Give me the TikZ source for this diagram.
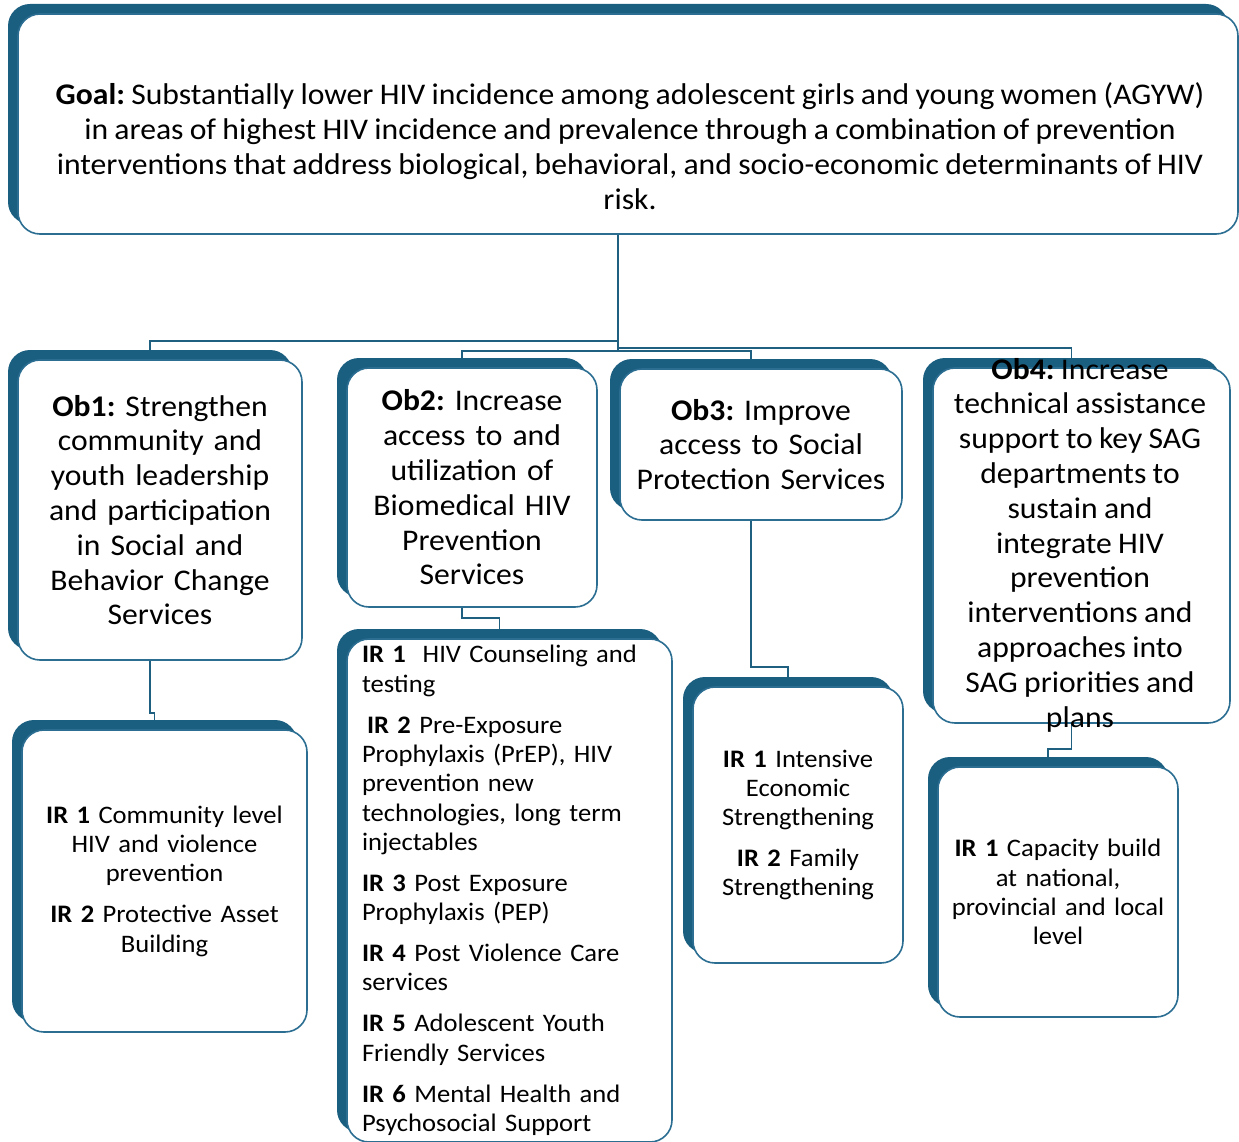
\documentclass[tikz,border=0pt]{standalone}
\usepackage{fontspec}
\setmainfont{Carlito}[FakeStretch=1.055, WordSpace=0.88]
\frenchspacing
\usetikzlibrary{shadows,calc,backgrounds}
\definecolor{sgdark}{HTML}{1A5E80}
\definecolor{sgline}{HTML}{2B6E92}
\definecolor{sgconn}{HTML}{1F5F80}
\begin{document}
\begin{tikzpicture}[x=1pt,y=-1pt,
  box/.style={draw=sgline, line width=1.6pt, fill=white, rounded corners=22pt,
    general shadow={fill=sgdark, shadow xshift=-10pt, shadow yshift=10pt},
    inner xsep=8pt, inner ysep=2pt, align=center},
  big/.style={font=\fontsize{30}{34.8}\selectfont\frenchspacing},
  small/.style={font=\fontsize{25.2}{29.3}\selectfont\frenchspacing},
  conn/.style={draw=sgconn, line width=1.8pt}]
\useasboundingbox (0,0) rectangle (1239,1142);

% goal
\node[box, minimum width=1220pt, minimum height=220pt] (goal) at (628,124) {};
\node[big, align=center] (goaltext) at (630,146)
  {\textbf{Goal:} Substantially lower HIV incidence among adolescent girls and young women (AGYW)\\
   in areas of highest HIV incidence and prevalence through a combination of prevention\\
   interventions that address biological, behavioral, and socio-economic determinants of HIV\\
   risk.};

% objectives
\node[box, big, minimum width=284pt, minimum height=300pt, text width=268pt] (ob1) at (160,510)
  {\textbf{Ob1:} Strengthen\\community and\\youth leadership\\and participation\\in Social and\\Behavior Change\\Services};
\node[box, big, minimum width=250pt, minimum height=239pt, text width=234pt] (ob2) at (472,487.5)
  {\textbf{Ob2:} Increase\\access to and\\utilization of\\Biomedical HIV\\Prevention\\Services};
\node[box, big, minimum width=282pt, minimum height=151pt, text width=266pt] (ob3) at (761,444.5)
  {\textbf{Ob3:} Improve\\access to Social\\Protection Services};
\node[box, minimum width=297pt, minimum height=355pt] (ob4) at (1081.5,545.5) {};
\node[big, align=center] (ob4text) at (1080,545)
  {\textbf{Ob4:} Increase\\technical assistance\\support to key SAG\\departments to\\sustain and\\integrate HIV\\prevention\\interventions and\\approaches into\\SAG priorities and\\plans};

% intermediate results
\node[box, small, minimum width=285pt, minimum height=302pt, text width=269pt] (ir1) at (164.5,881)
  {\textbf{IR 1} Community level\\HIV and violence\\prevention\\[11.7pt]\textbf{IR 2} Protective Asset\\Building};
\node[box, small, inner xsep=15pt, minimum width=325pt, minimum height=503pt, text width=295pt, align=left] (ir2) at (509.5,890.5)
  {\textbf{IR 1}\ \ HIV Counseling and\\testing\\[11.7pt]
   \hspace*{5pt}\textbf{IR 2} Pre-Exposure\\Prophylaxis (PrEP), HIV\\prevention new\\technologies, long term\\injectables\\[11.7pt]
   \textbf{IR 3} Post Exposure\\Prophylaxis (PEP)\\[11.7pt]
   \textbf{IR 4} Post Violence Care\\services\\[11.7pt]
   \textbf{IR 5} Adolescent Youth\\Friendly Services\\[11.7pt]
   \textbf{IR 6} Mental Health and\\Psychosocial Support};
\node[box, small, minimum width=210pt, minimum height=276pt, text width=194pt] (ir3) at (798,825)
  {\textbf{IR 1} Intensive\\Economic\\Strengthening\\[11.7pt]\textbf{IR 2} Family\\Strengthening};
\node[box, small, minimum width=240pt, minimum height=250pt, text width=224pt] (ir4) at (1058,892)
  {\textbf{IR 1} Capacity build\\at national,\\provincial and local\\level};

% connectors
\begin{scope}[on background layer]
\draw[conn] ($(goal.south)+(-10,0)$) -- ++(0,106) -| ($(ob1.north)+(-10,0)$);
\draw[conn] ($(goal.south)+(-10,0)$) -- ++(0,116) -| ($(ob2.north)+(-10,0)$);
\draw[conn] ($(goal.south)+(-10,0)$) -- ++(0,116) -| ($(ob3.north)+(-10,0)$);
\draw[conn] ($(goal.south)+(-10,0)$) -- ++(0,113) -| ($(ob4.north)+(-10,0)$);
\draw[conn] ($(ob1.south)+(-10,0)$) -- ++(0,52) -| ($(ir1.north)+(-10,0)$);
\draw[conn] ($(ob2.south)+(-10,0)$) -- ++(0,10) -| ($(ir2.north)+(-10,0)$);
\draw[conn] ($(ob3.south)+(-10,0)$) -- ++(0,146) -| ($(ir3.north)+(-10,0)$);
\draw[conn] ($(ob4.south)+(-10,0)$) -- ++(0,25) -| ($(ir4.north)+(-10,0)$);
\end{scope}
\end{tikzpicture}
\end{document}
